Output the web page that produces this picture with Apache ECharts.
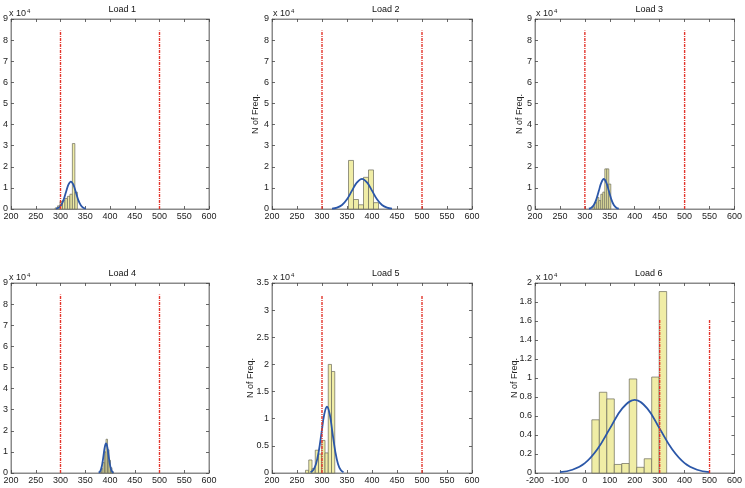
<!DOCTYPE html>
<html>
<head>
<meta charset="utf-8">
<script src="https://cdn.jsdelivr.net/npm/echarts@6/dist/echarts.min.js"></script>
<style>html,body{margin:0;padding:0;background:#fff}#c{width:745px;height:488px}</style>
</head>
<body>
<div id="c"></div>
<script>
// ---------- data (counts in units of 10^4) ----------
const titles = ['Load 1', 'Load 2', 'Load 3', 'Load 4', 'Load 5', 'Load 6'];
const xMins = [200, 200, 200, 200, 200, -200];
const xMaxs = [600, 600, 600, 600, 600, 600];
const xIntervals = [50, 50, 50, 50, 50, 100];
const yMaxs = [9, 9, 9, 9, 3.5, 2];
const yIntervals = [1, 1, 1, 1, 0.5, 0.2];
const showYName = [false, true, true, false, true, true];
const limitX = [300, 500];
const limitTops = [8.45, 8.45, 8.45, 8.45, 3.28, 1.61];

const edges1 = [289, 294, 299, 304, 309, 314, 319, 324, 329, 334];
const counts1 = [0.05, 0.15, 0.35, 0.4, 0.5, 0.6, 0.7, 3.1, 0.8];
const edges2 = [353, 363, 373, 383, 393, 403, 413];
const counts2 = [2.3, 0.45, 0.2, 1.5, 1.85, 0.3];
const edges3 = [316, 320, 324, 328, 332, 336, 340, 344, 348, 352];
const counts3 = [0.1, 0.3, 0.55, 0.4, 0.7, 0.8, 1.9, 1.9, 1.18];
const edges4 = [380, 383, 386, 389, 392, 395, 398, 401, 404, 407];
const counts4 = [0.05, 0.2, 0.5, 1.0, 1.6, 1.1, 0.6, 0.25, 0.05];
const edges5 = [267, 273.5, 280, 286.5, 293, 299.5, 306, 312.5, 319, 325.5];
const counts5 = [0.05, 0.24, 0.08, 0.42, 0.35, 0.6, 0.37, 2.0, 1.87];
const edges6 = [28, 58, 88, 118, 148, 178, 208, 238, 268, 298, 328];
const counts6 = [0.56, 0.85, 0.78, 0.09, 0.1, 0.99, 0.06, 0.15, 1.01, 1.91];

const curveX1 = [291, 296, 301, 306, 311, 316, 321, 326, 331, 336, 341, 346, 351];
const curveY1 = [0.014, 0.057, 0.176, 0.42, 0.79, 1.15, 1.3, 1.15, 0.79, 0.42, 0.176, 0.057, 0.014];
const curveX2 = [320, 330, 340, 350, 360, 370, 380, 390, 400, 410, 420, 430, 440];
const curveY2 = [0.016, 0.063, 0.19, 0.46, 0.87, 1.26, 1.43, 1.26, 0.87, 0.46, 0.19, 0.063, 0.016];
const curveX3 = [308, 313, 318, 323, 328, 333, 338, 343, 348, 353, 358, 363, 368];
const curveY3 = [0.016, 0.062, 0.19, 0.46, 0.86, 1.25, 1.42, 1.25, 0.86, 0.46, 0.19, 0.062, 0.016];
const curveX4 = [377, 379.5, 382, 384.5, 387, 389.5, 392, 394.5, 397, 399.5, 402, 404.5, 407];
const curveY4 = [0.016, 0.06, 0.19, 0.45, 0.85, 1.24, 1.4, 1.24, 0.85, 0.45, 0.19, 0.06, 0.016];
const curveX5 = [277, 282.5, 288, 293.5, 299, 304.5, 310, 315.5, 321, 326.5, 332, 337.5, 343];
const curveY5 = [0.0135, 0.054, 0.165, 0.40, 0.74, 1.08, 1.22, 1.08, 0.74, 0.40, 0.165, 0.054, 0.0135];
const curveX6 = [-100, -50, 0, 50, 100, 150, 200, 250, 300, 350, 400, 450, 500];
const curveY6 = [0.0085, 0.034, 0.104, 0.25, 0.467, 0.68, 0.77, 0.68, 0.467, 0.25, 0.104, 0.034, 0.0085];

const allEdges = [edges1, edges2, edges3, edges4, edges5, edges6];
const allCounts = [counts1, counts2, counts3, counts4, counts5, counts6];
const allCurveX = [curveX1, curveX2, curveX3, curveX4, curveX5, curveX6];
const allCurveY = [curveY1, curveY2, curveY3, curveY4, curveY5, curveY6];

// ---------- layout ----------
const gridPos = [
  {left: 8, top: 19, width: 201, height: 190},
  {left: 272, top: 19, width: 200, height: 190},
  {left: 535, top: 19, width: 201, height: 190},
  {left: 8, top: 283, width: 201, height: 190},
  {left: 272, top: 283, width: 200, height: 190},
  {left: 535, top: 283, width: 200, height: 190}
];
const yNameX = [0, 256, 520, 0, 251, 515];

const FONT = 'Liberation Sans';
const labelStyle = {color: '#222', fontSize: 9, fontFamily: FONT};
const axisLineStyle = {onZero: false, lineStyle: {color: '#8a8a8a', width: 1}};
const tickStyle = {show: true, inside: true, length: 3, lineStyle: {color: '#444', width: 0.8}};

const grids = [], xAxes = [], yAxes = [], series = [], graphics = [];

for (let i = 0; i < 6; i++) {
  const g = gridPos[i];
  grids.push(Object.assign({show: true, borderColor: '#8a8a8a', borderWidth: 1, backgroundColor: '#fff'}, g));
  const xBase = {type: 'value', gridIndex: i, min: xMins[i], max: xMaxs[i], interval: xIntervals[i],
    splitLine: {show: false}, axisLine: axisLineStyle, axisTick: tickStyle};
  xAxes.push(Object.assign({}, xBase, {position: 'bottom', axisLabel: Object.assign({margin: 3}, labelStyle)}));
  xAxes.push(Object.assign({}, xBase, {position: 'top', axisLabel: {show: false}}));
  const yBase = {type: 'value', gridIndex: i, min: 0, max: yMaxs[i], interval: yIntervals[i],
    splitLine: {show: false}, axisLine: axisLineStyle, axisTick: tickStyle};
  yAxes.push(Object.assign({}, yBase, {position: 'left', axisLabel: Object.assign({margin: 3}, labelStyle)}));
  yAxes.push(Object.assign({}, yBase, {position: 'right', axisLabel: {show: false}}));

  const xi = i * 2, yi = i * 2;
  const edges = allEdges[i], counts = allCounts[i];
  const histData = counts.map((c, k) => [edges[k], edges[k + 1], c]);
  series.push({
    type: 'custom', xAxisIndex: xi, yAxisIndex: yi, data: histData,
    encode: {x: [0, 1], y: 2}, silent: true,
    renderItem: function (params, api) {
      const p0 = api.coord([api.value(0), api.value(2)]);
      const p1 = api.coord([api.value(1), 0]);
      return {type: 'rect', shape: {x: p0[0], y: p0[1], width: p1[0] - p0[0], height: p1[1] - p0[1]},
        style: {fill: '#f0eda6', stroke: '#6a6a5a', lineWidth: 0.7}};
    }
  });
  series.push({
    type: 'line', xAxisIndex: xi, yAxisIndex: yi, smooth: 0.4, showSymbol: false, symbol: 'none',
    data: allCurveX[i].map((x, k) => [x, allCurveY[i][k]]),
    lineStyle: {color: '#2b57a8', width: 1.8}, silent: true, z: 3
  });
  limitX.forEach(lx => {
    series.push({
      type: 'line', xAxisIndex: xi, yAxisIndex: yi, showSymbol: false, symbol: 'none',
      data: [[lx, 0], [lx, limitTops[i]]],
      lineStyle: {color: '#e3352c', width: 1.4, type: [3, 1, 1, 1]}, silent: true, z: 4
    });
  });

  graphics.push({
    type: 'text', left: g.left + g.width / 2, top: g.top - 14,
    style: {text: titles[i], font: '9px ' + FONT, fill: '#111', textAlign: 'center'}
  });
  graphics.push({
    type: 'text', x: g.left + 1, y: g.top - 11,
    style: {
      text: '{a|x 10}{b|4}', fill: '#222',
      rich: {a: {fontSize: 9, fontFamily: FONT, fill: '#222'}, b: {fontSize: 6, fontFamily: FONT, fill: '#222', verticalAlign: 'top', padding: [0, 0, 6, 1]}}
    }
  });
  if (showYName[i]) {
    graphics.push({
      type: 'text', x: yNameX[i], y: g.top + g.height / 2, rotation: Math.PI / 2,
      style: {text: 'N of Freq.', font: '9px ' + FONT, fill: '#222', textAlign: 'center', textVerticalAlign: 'middle'}
    });
  }
}

const chart = echarts.init(document.getElementById('c'), null, {renderer: 'canvas'});
chart.setOption({
  animation: false,
  backgroundColor: '#fff',
  grid: grids, xAxis: xAxes, yAxis: yAxes, series: series, graphic: graphics
});
</script>
</body>
</html>
